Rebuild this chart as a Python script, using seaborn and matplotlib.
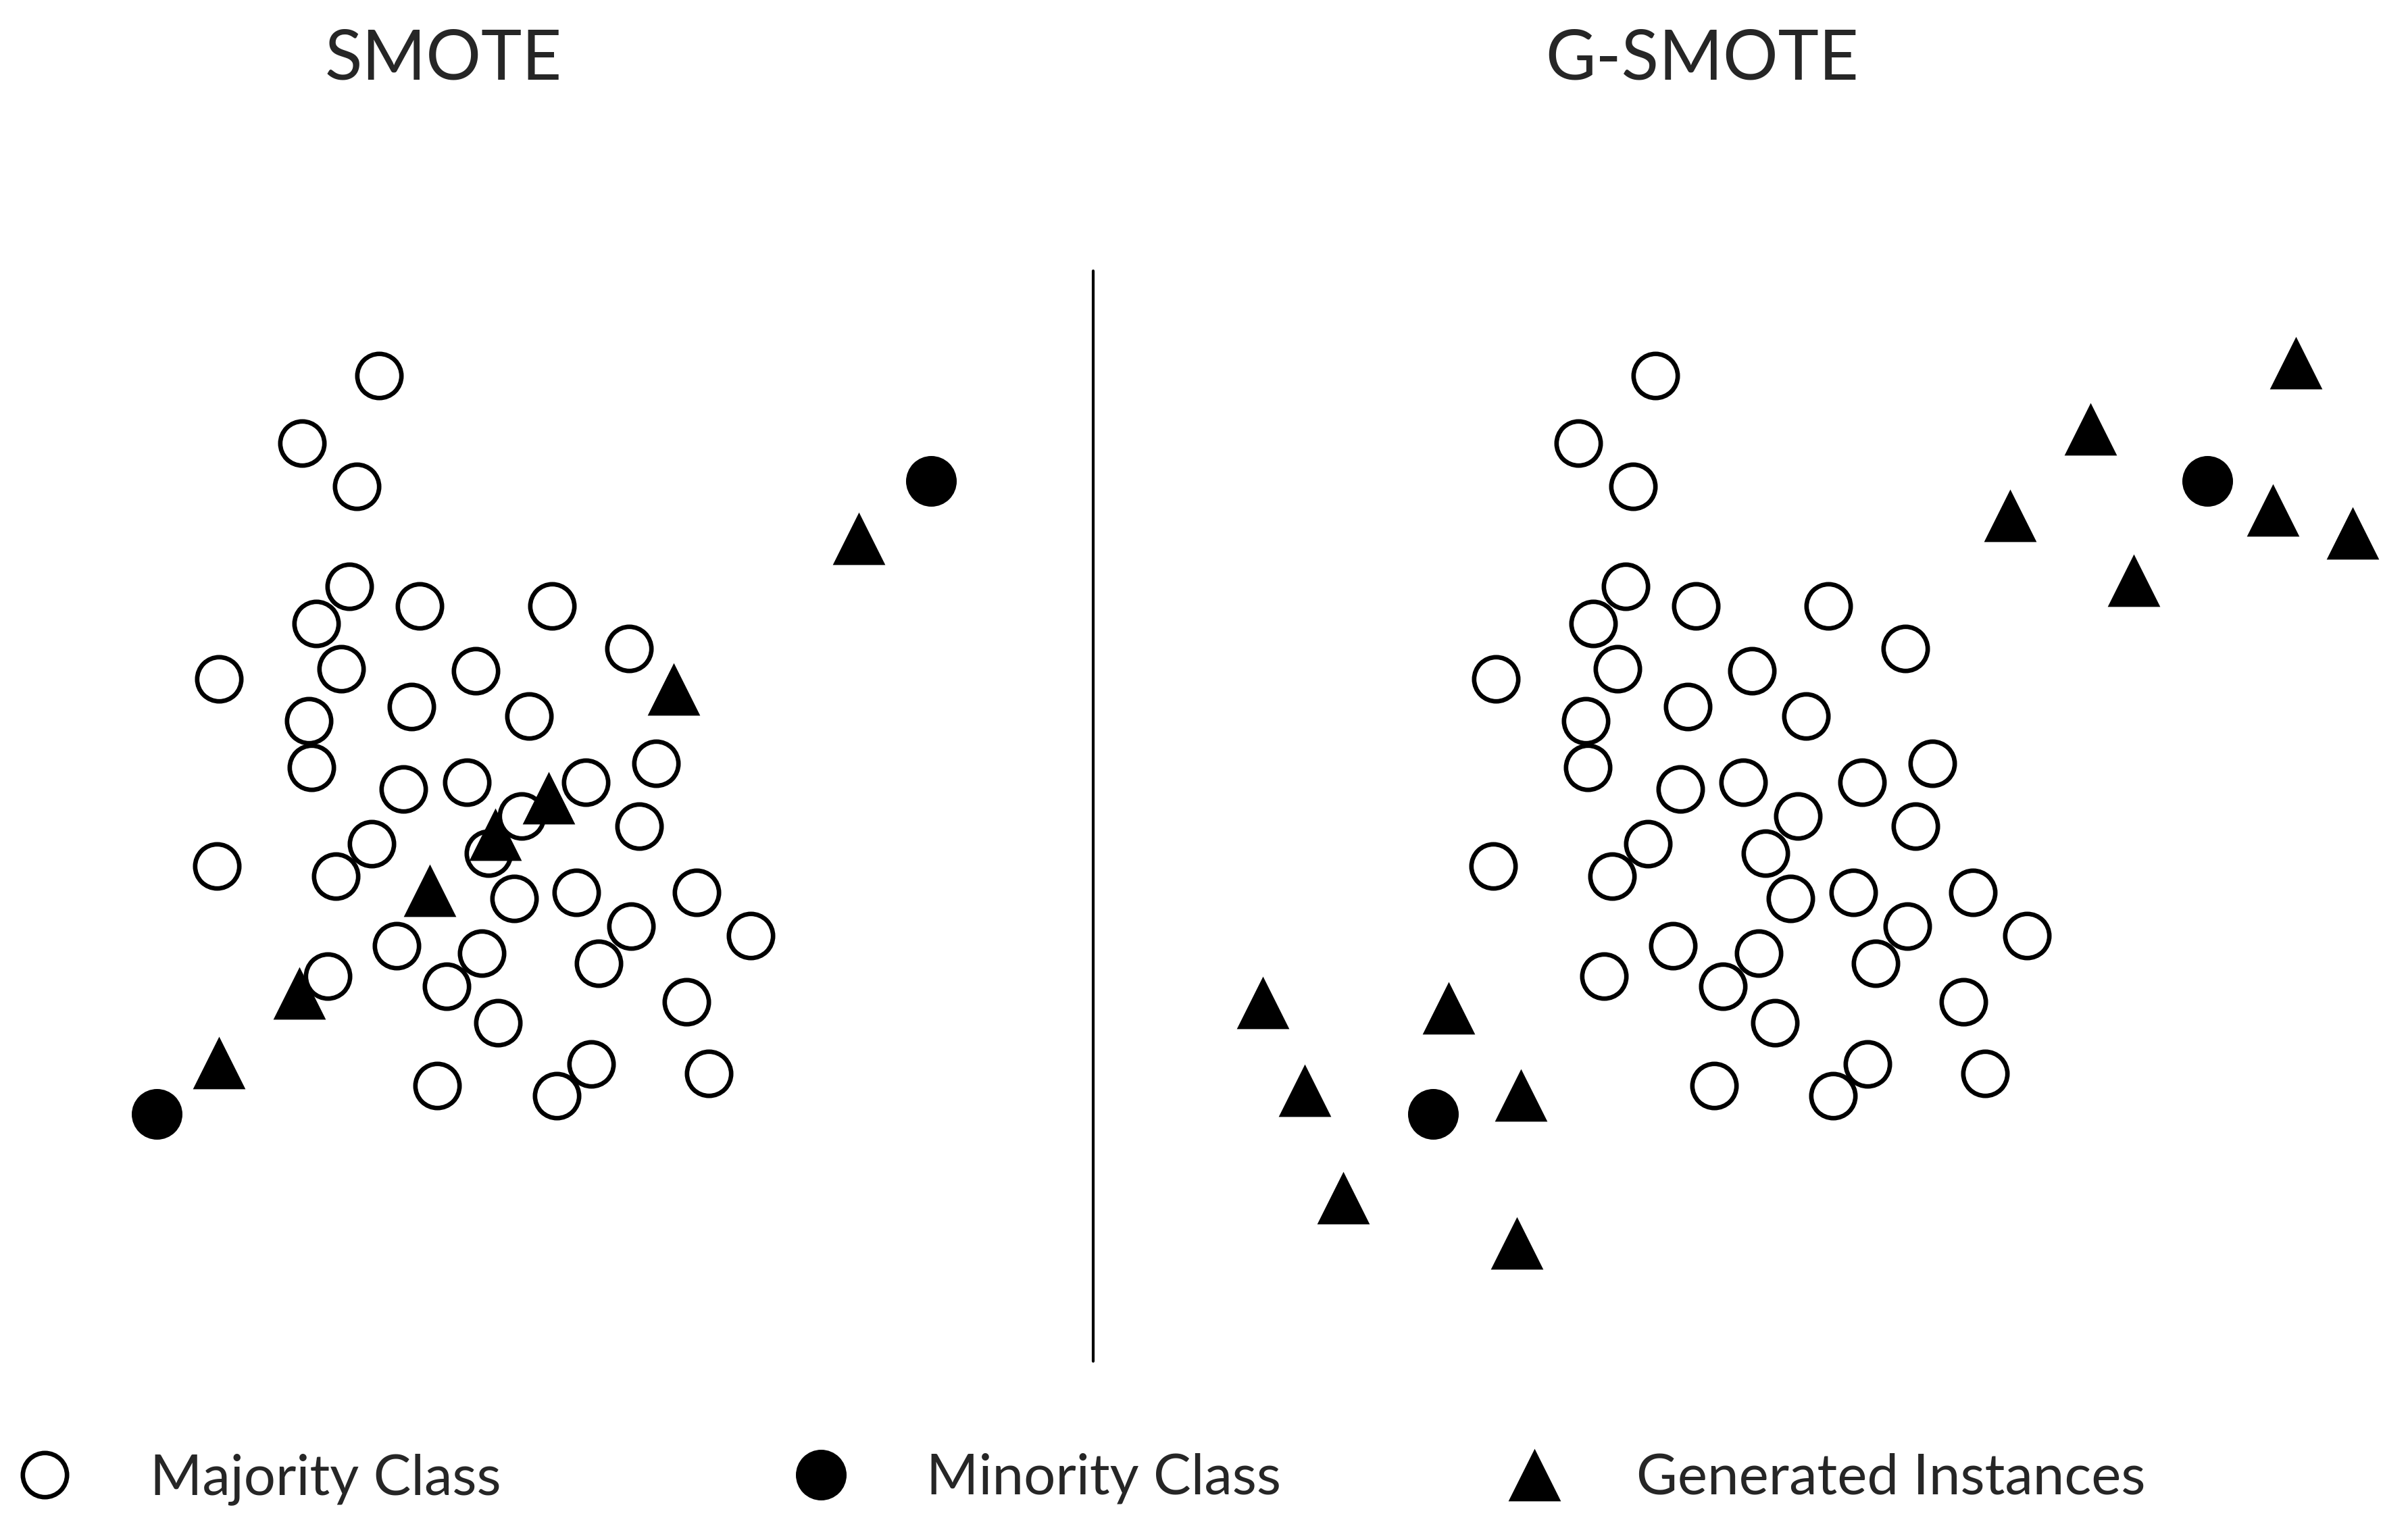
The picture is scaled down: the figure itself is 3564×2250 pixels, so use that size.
import matplotlib
matplotlib.use("Agg")
import matplotlib.pyplot as plt
import seaborn as sns

sns.set_style("white")
plt.rcParams['font.family'] = ['Lato', 'DejaVu Sans']

# coordinates (pixels of a 1560 x 985 view, y going down)
majority_x = [245.4, 195.5, 230.9, 226.1, 205.0, 271.7, 357.4, 407.4, 141.9, 221.0,
              308.2, 266.6, 342.8, 200.2, 201.7, 424.9, 261.5, 302.3, 379.3, 337.7,
              413.9, 240.7, 316.6, 140.4, 217.4, 333.0, 373.5, 451.1, 408.8, 486.2,
              256.8, 312.2, 388.0, 212.3, 289.2, 444.9, 322.8, 382.9, 459.2, 283.4,
              360.7]
majority_y = [243.6, 287.4, 315.1, 380.0, 404.1, 392.8, 392.8, 420.1, 439.8, 433.3,
              434.7, 457.7, 463.9, 467.2, 497.5, 494.5, 511.3, 506.9, 506.9, 528.8,
              535.4, 546.7, 552.9, 561.3, 567.8, 582.4, 578.1, 578.1, 600.3, 606.5,
              613.1, 617.8, 624.4, 632.4, 639.0, 649.2, 662.7, 689.3, 695.8, 703.5,
              710.1]

minority_x = [603.0, 101.4]
minority_y = [311.6, 721.7]

smote_gen_x = [556.5, 436.6, 355.6, 320.9, 278.6, 193.7, 141.9]
smote_gen_y = [348.7, 446.4, 517.1, 540.8, 576.9, 643.7, 688.5]

gsmote_gen_x = [660.5, 527.1, 475.1, 645.5, 697.3, 555.5,
                -8.8, 111.4, 18.2, 158.1, 43.2, 155.6]
gsmote_gen_y = [235.2, 278.1, 334.1, 330.5, 345.4, 376.1,
                649.7, 653.0, 706.5, 709.8, 776.3, 805.4]

panel_titles = ['SMOTE', 'G-SMOTE']
legend_labels = ['Majority Class', 'Minority Class', 'Generated Instances']

W, H = 1560, 985
split = 708          # divider position in the view
shift = 827          # right panel offset in the view

fig = plt.figure(figsize=(11.88, 7.5), dpi=300)
ax_l = fig.add_axes([0, 0, split / W, 1])
ax_r = fig.add_axes([split / W, 0, (W - split) / W, 1])
ax_leg = fig.add_axes([0, 0, 1, 1])
ax_leg.patch.set_alpha(0)

ax_l.set_xlim(0, split)
ax_r.set_xlim(split - shift, W - shift)
ax_leg.set_xlim(0, W)
for ax in (ax_l, ax_r, ax_leg):
    ax.set_ylim(H, 0)
    ax.set_axis_off()

open_kw = dict(marker='o', s=246, color='white', edgecolor='black', linewidth=1.6)
full_kw = dict(marker='o', s=324, color='black', edgecolor='black', linewidth=0)
tri_kw = dict(marker='^', s=348, color='black', edgecolor='black', linewidth=0)


def draw_panel(ax, gen_x, gen_y, title, title_x):
    sns.scatterplot(x=majority_x, y=majority_y, ax=ax, zorder=2, **open_kw)
    sns.scatterplot(x=minority_x, y=minority_y, ax=ax, zorder=3, **full_kw)
    sns.scatterplot(x=gen_x, y=gen_y, ax=ax, zorder=4, clip_on=False, **tri_kw)
    ax.text(title_x, 51.3, title, ha='center', va='baseline', fontsize=24.5)


draw_panel(ax_l, smote_gen_x, smote_gen_y, panel_titles[0], 287.3)
draw_panel(ax_r, gsmote_gen_x, gsmote_gen_y, panel_titles[1], 1102.7 - shift)

# divider between the two panels
ax_leg.plot([split, split], [175.4, 882], color='black', lw=1.0)

# legend strip along the bottom
leg_marker_x = [29, 532, 994]
leg_text_x = [97, 600, 1060]
for kw, mx, tx, lab in zip([open_kw, full_kw, tri_kw], leg_marker_x, leg_text_x, legend_labels):
    sns.scatterplot(x=[mx], y=[955.5], ax=ax_leg, clip_on=False, **kw)
    ax_leg.text(tx, 968.3, lab, ha='left', va='baseline', fontsize=20)

for ax in (ax_l, ax_r, ax_leg):
    if ax.get_legend() is not None:
        ax.get_legend().remove()

fig.savefig('out.png', dpi=300, facecolor='white')
